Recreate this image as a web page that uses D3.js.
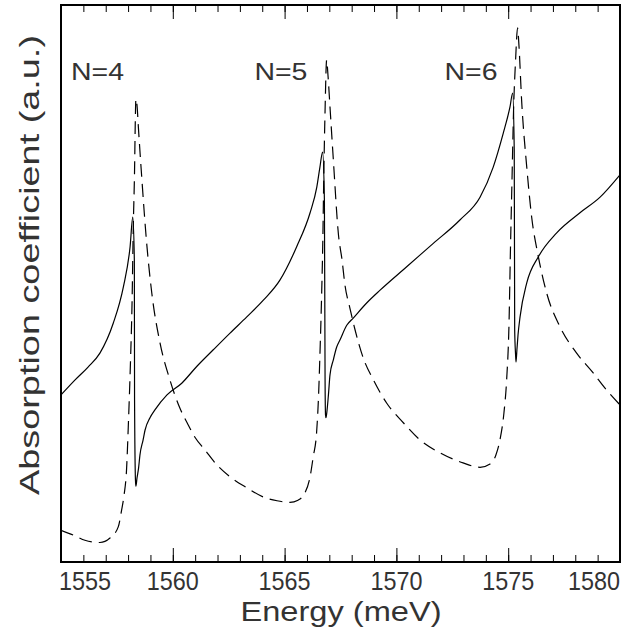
<!DOCTYPE html>
<html>
<head>
<meta charset="utf-8">
<script src="https://cdn.jsdelivr.net/npm/d3@7"></script>
<style>
  body { margin: 0; background: #fff; }
  text { font-family: "Liberation Sans", "DejaVu Sans", sans-serif; fill: #333; }
</style>
</head>
<body>
<div id="chart"></div>
<script>
var svgWidth = 625;
var svgHeight = 635;

var margin = { top: 5, right: 5, bottom: 73, left: 61 };
var width = svgWidth - margin.left - margin.right;
var height = svgHeight - margin.top - margin.bottom;

// energy (meV) and absorption (a.u.)
var dashedX = [1555.00, 1555.63, 1556.07, 1556.74, 1557.19, 1557.56, 1557.71, 1557.82, 1557.93, 1558.02,
  1558.11, 1558.18, 1558.23, 1558.29, 1558.32, 1558.35, 1558.40, 1558.46, 1558.61, 1558.83,
  1559.06, 1559.43, 1559.87, 1560.32, 1560.64, 1560.99, 1561.44, 1561.98, 1562.56, 1563.32,
  1564.03, 1564.66, 1565.24, 1565.60, 1565.91, 1566.14, 1566.28, 1566.43, 1566.52, 1566.58,
  1566.65, 1566.71, 1566.75, 1566.81, 1566.88, 1566.94, 1567.03, 1567.18, 1567.41, 1567.57,
  1567.70, 1567.92, 1568.15, 1568.52, 1568.97, 1569.57, 1570.31, 1571.06, 1571.95, 1572.98,
  1573.74, 1574.19, 1574.45, 1574.63, 1574.81, 1574.93, 1575.04, 1575.10, 1575.17, 1575.24,
  1575.33, 1575.42, 1575.48, 1575.60, 1575.83, 1576.05, 1576.35, 1576.72, 1577.32, 1578.06,
  1578.81, 1579.33, 1580.00];
var dashedY = [0.57, 0.47, 0.39, 0.35, 0.43, 0.63, 0.93, 1.20, 1.65, 2.55,
  3.63, 4.70, 5.96, 7.04, 7.85, 8.31, 8.20, 7.81, 6.91, 5.73,
  4.83, 3.93, 3.27, 2.76, 2.50, 2.24, 2.01, 1.74, 1.53, 1.33,
  1.17, 1.10, 1.07, 1.11, 1.24, 1.53, 1.89, 2.32, 3.00, 3.72,
  4.70, 5.78, 6.86, 8.11, 9.01, 8.74, 8.17, 7.22, 5.87, 5.42,
  4.97, 4.56, 4.17, 3.66, 3.27, 2.85, 2.50, 2.19, 1.96, 1.78,
  1.70, 1.76, 1.92, 2.19, 2.68, 3.27, 4.34, 5.60, 6.86, 8.11,
  9.01, 9.59, 9.28, 8.29, 7.09, 6.19, 5.48, 4.83, 4.22, 3.75,
  3.39, 3.12, 2.82];

var solidX = [1555.00, 1555.63, 1556.21, 1556.74, 1557.34, 1557.79, 1558.09, 1558.21, 1558.28, 1558.29,
  1558.33, 1558.35, 1558.40, 1558.47, 1558.53, 1558.67, 1558.76, 1558.98, 1559.20, 1559.74,
  1560.40, 1561.07, 1561.81, 1562.56, 1563.31, 1564.05, 1564.79, 1565.54, 1566.14, 1566.44,
  1566.58, 1566.70, 1566.78, 1566.81, 1566.83, 1566.85, 1566.90, 1566.96, 1567.03, 1567.18,
  1567.33, 1567.48, 1567.78, 1568.07, 1568.67, 1569.27, 1570.46, 1571.65, 1572.84, 1573.74,
  1574.33, 1574.78, 1575.08, 1575.20, 1575.27, 1575.29, 1575.33, 1575.35, 1575.39, 1575.44,
  1575.53, 1575.83, 1576.35, 1577.17, 1578.21, 1579.11, 1580.00];
var solidY = [3.00, 3.27, 3.50, 3.75, 4.29, 4.94, 5.66, 6.19, 5.42, 2.91,
  1.47, 1.36, 1.51, 1.69, 1.92, 2.19, 2.37, 2.59, 2.73, 3.00,
  3.21, 3.51, 3.81, 4.11, 4.40, 4.70, 5.06, 5.66, 6.27, 6.73,
  7.09, 7.36, 6.50, 3.27, 2.64, 2.59, 2.73, 3.00, 3.36, 3.63,
  3.86, 3.99, 4.25, 4.38, 4.65, 4.88, 5.30, 5.72, 6.14, 6.55,
  7.09, 7.70, 8.17, 8.42, 7.40, 4.17, 3.72, 3.59, 3.81, 4.08,
  4.40, 5.01, 5.48, 5.91, 6.27, 6.55, 6.95];

var peakLabels = ["N=4", "N=5", "N=6"];
var peakLabelX = [1555.45, 1563.65, 1572.15];

var majorTicks = [1555, 1560, 1565, 1570, 1575, 1580];
var minorTicks = d3.range(1555, 1581, 1);

var svg = d3.select("#chart")
  .append("svg")
  .attr("width", svgWidth)
  .attr("height", svgHeight);

var chartGroup = svg.append("g")
  .attr("transform", "translate(" + margin.left + "," + margin.top + ")");

var xScale = d3.scaleLinear().domain([1555, 1580]).range([0, width]);
var yScale = d3.scaleLinear().domain([0, 10]).range([height, 0]);

svg.append("defs").append("clipPath").attr("id", "plotclip")
  .append("rect").attr("width", width).attr("height", height);

// ticks inside, bottom and top
var bottomAxis = d3.axisBottom(xScale).tickValues(minorTicks)
  .tickSizeInner(-7).tickSizeOuter(0).tickFormat("");
var bottomMajor = d3.axisBottom(xScale).tickValues(majorTicks)
  .tickSizeInner(-14).tickSizeOuter(0).tickFormat("");
var topAxis = d3.axisTop(xScale).tickValues(minorTicks)
  .tickSizeInner(-7).tickSizeOuter(0).tickFormat("");
var topMajor = d3.axisTop(xScale).tickValues(majorTicks)
  .tickSizeInner(-14).tickSizeOuter(0).tickFormat("");

[bottomAxis, bottomMajor].forEach(function(ax) {
  chartGroup.append("g").attr("transform", "translate(0," + height + ")").call(ax);
});
[topAxis, topMajor].forEach(function(ax) {
  chartGroup.append("g").call(ax);
});
chartGroup.selectAll(".domain").remove();
chartGroup.selectAll(".tick line").attr("stroke", "#000").attr("stroke-width", 1);

// tick labels, end ones pulled inside the frame
chartGroup.selectAll(".xlab")
  .data(majorTicks)
  .enter()
  .append("text")
  .attr("class", "xlab")
  .attr("x", function(d, i) {
    if (i === 0) return xScale(d) - 2;
    if (i === majorTicks.length - 1) return xScale(d);
    return xScale(d);
  })
  .attr("y", height + 28)
  .attr("text-anchor", function(d, i) {
    if (i === 0) return "start";
    if (i === majorTicks.length - 1) return "end";
    return "middle";
  })
  .attr("font-size", 26)
  .attr("textLength", 52)
  .attr("lengthAdjust", "spacingAndGlyphs")
  .text(function(d) { return d; });

var line = d3.line().curve(d3.curveMonotoneX);

chartGroup.append("path")
  .attr("clip-path", "url(#plotclip)")
  .attr("d", line(dashedX.map(function(x, i) { return [xScale(x), yScale(dashedY[i])]; })))
  .attr("fill", "none")
  .attr("stroke", "#000")
  .attr("stroke-width", 1.2)
  .attr("stroke-dasharray", "13,7");

chartGroup.append("path")
  .attr("clip-path", "url(#plotclip)")
  .attr("d", line(solidX.map(function(x, i) { return [xScale(x), yScale(solidY[i])]; })))
  .attr("fill", "none")
  .attr("stroke", "#000")
  .attr("stroke-width", 1.2);

chartGroup.selectAll(".nlab")
  .data(peakLabels)
  .enter()
  .append("text")
  .attr("class", "nlab")
  .attr("x", function(d, i) { return xScale(peakLabelX[i]); })
  .attr("y", 75)
  .attr("font-size", 23)
  .attr("textLength", 53)
  .attr("lengthAdjust", "spacingAndGlyphs")
  .text(function(d) { return d; });

// frame
chartGroup.append("rect")
  .attr("width", width)
  .attr("height", height)
  .attr("fill", "none")
  .attr("stroke", "#000")
  .attr("stroke-width", 2);

svg.append("text")
  .attr("x", 341)
  .attr("y", 621)
  .attr("text-anchor", "middle")
  .attr("font-size", 28)
  .attr("textLength", 201)
  .attr("lengthAdjust", "spacingAndGlyphs")
  .text("Energy  (meV)");

svg.append("text")
  .attr("transform", "translate(39,265) rotate(-90)")
  .attr("text-anchor", "middle")
  .attr("font-size", 28)
  .attr("textLength", 460)
  .attr("lengthAdjust", "spacingAndGlyphs")
  .text("Absorption  coefficient  (a.u.)");
</script>
</body>
</html>
